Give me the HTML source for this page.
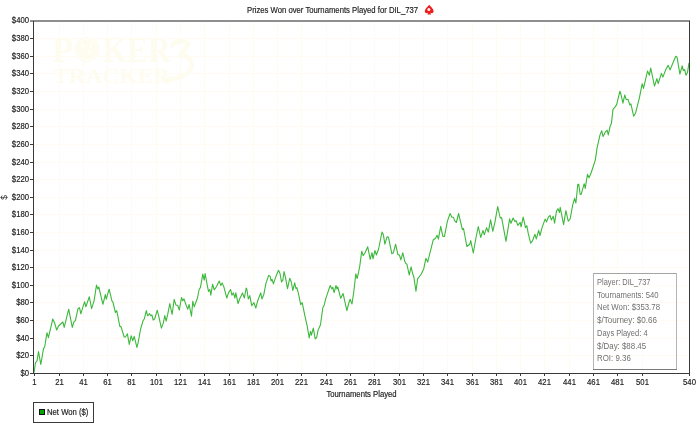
<!DOCTYPE html><html><head><meta charset="utf-8"><title>Prizes Won over Tournaments Played</title><style>
html,body{margin:0;padding:0;background:#fff;width:700px;height:424px;overflow:hidden}
svg{display:block;will-change:transform}
text{font-family:"Liberation Sans", sans-serif;}
.t text{stroke:#1e1e1e;stroke-width:0.18px}
.s text{stroke:none}
text.wm{font-family:"Liberation Serif",serif;font-weight:bold}
</style></head><body>
<svg width="700" height="424" viewBox="0 0 700 424">
<g fill="#fffbf2"><rect x="34" y="355" width="655" height="1"/><rect x="34" y="338" width="655" height="1"/><rect x="34" y="320" width="655" height="1"/><rect x="34" y="302" width="655" height="1"/><rect x="34" y="285" width="655" height="1"/><rect x="34" y="267" width="655" height="1"/><rect x="34" y="250" width="655" height="1"/><rect x="34" y="232" width="655" height="1"/><rect x="34" y="214" width="655" height="1"/><rect x="34" y="197" width="655" height="1"/><rect x="34" y="179" width="655" height="1"/><rect x="34" y="162" width="655" height="1"/><rect x="34" y="144" width="655" height="1"/><rect x="34" y="126" width="655" height="1"/><rect x="34" y="109" width="655" height="1"/><rect x="34" y="91" width="655" height="1"/><rect x="34" y="73" width="655" height="1"/><rect x="34" y="56" width="655" height="1"/><rect x="34" y="38" width="655" height="1"/><rect x="59" y="22" width="1" height="351"/><rect x="83" y="22" width="1" height="351"/><rect x="107" y="22" width="1" height="351"/><rect x="131" y="22" width="1" height="351"/><rect x="156" y="22" width="1" height="351"/><rect x="180" y="22" width="1" height="351"/><rect x="204" y="22" width="1" height="351"/><rect x="229" y="22" width="1" height="351"/><rect x="253" y="22" width="1" height="351"/><rect x="277" y="22" width="1" height="351"/><rect x="301" y="22" width="1" height="351"/><rect x="326" y="22" width="1" height="351"/><rect x="350" y="22" width="1" height="351"/><rect x="374" y="22" width="1" height="351"/><rect x="399" y="22" width="1" height="351"/><rect x="423" y="22" width="1" height="351"/><rect x="447" y="22" width="1" height="351"/><rect x="472" y="22" width="1" height="351"/><rect x="496" y="22" width="1" height="351"/><rect x="520" y="22" width="1" height="351"/><rect x="544" y="22" width="1" height="351"/><rect x="569" y="22" width="1" height="351"/><rect x="593" y="22" width="1" height="351"/><rect x="617" y="22" width="1" height="351"/><rect x="642" y="22" width="1" height="351"/></g>
<g fill="#fefbef">
<text class="wm" x="52" y="62" font-size="35">P</text>
<circle cx="87" cy="49.5" r="12.6"/>
<circle cx="87" cy="49.5" r="10.6" fill="none" stroke="#ffffff" stroke-width="0.9"/>
<g fill="#ffffff"><circle cx="82.5" cy="46" r="1.6"/><circle cx="90.8" cy="46" r="1.6"/><path d="M87.5,51 L91.5,51 L89.5,55 Z"/></g>
<text class="wm" x="102.5" y="62" font-size="35" textLength="68" lengthAdjust="spacingAndGlyphs">KER</text>
<text class="wm" x="53" y="83.2" font-size="20.5" textLength="117" lengthAdjust="spacingAndGlyphs">TRACKER</text>
<path d="M172,45.5 C175,41 184,39.5 188.5,44 L180.5,55.5 C187,55 192,59 191.5,66 C190.5,74 180,79.5 163,80" fill="none" stroke="#fefbef" stroke-width="4.6" stroke-linecap="round" stroke-linejoin="round"/>
</g>
<polyline points="34.1,372.4 35.5,362.7 37.0,361.0 38.5,351.6 40.8,364.5 43.5,348.6 44.7,346.8 47.0,332.7 48.4,337.6 52.8,319.0 54.6,323.0 56.7,330.0 58.5,326.0 62.9,322.0 64.2,327.4 68.7,309.2 72.3,327.4 74.0,321.6 75.3,320.8 78.0,308.7 79.5,307.7 80.8,313.8 84.6,301.7 85.9,306.8 89.3,296.8 91.6,308.7 94.0,301.1 96.5,285.1 97.8,288.9 98.8,287.0 102.9,304.3 105.4,294.5 106.3,299.2 109.1,289.2 112.0,301.1 112.9,302.0 115.4,312.5 116.7,310.6 119.9,326.6 121.0,326.6 124.2,337.0 125.5,337.0 127.4,333.8 129.3,344.5 131.2,335.7 132.7,340.8 134.2,336.4 136.9,347.4 138.2,342.3 140.6,329.0 143.1,320.6 144.4,318.7 146.3,310.6 147.6,315.8 149.5,313.6 150.6,315.8 151.9,314.9 153.2,320.0 154.8,318.7 157.2,310.2 158.9,316.8 161.4,328.1 163.2,323.4 164.8,315.5 166.1,321.1 167.6,314.9 169.8,303.6 172.1,314.5 174.2,299.4 175.9,304.9 177.8,305.5 179.3,310.2 181.5,297.5 182.7,300.8 184.0,298.9 185.9,304.5 187.8,309.2 189.1,304.5 191.5,316.2 192.8,301.2 194.2,306.9 195.7,302.7 197.5,298.0 199.1,289.5 200.4,287.6 202.8,274.1 204.2,280.1 205.1,273.5 207.0,283.9 208.5,291.4 209.8,289.5 210.8,295.2 212.6,284.2 214.2,289.9 216.4,286.7 219.2,281.0 220.8,285.4 222.1,282.9 224.0,287.3 226.8,298.0 228.7,292.4 230.6,289.5 231.9,295.2 233.4,292.9 234.9,298.0 235.8,292.9 238.1,303.7 239.6,299.0 242.5,292.9 244.3,298.0 246.2,288.0 246.9,289.5 248.3,299.0 249.8,295.6 251.7,305.6 253.9,302.7 255.8,308.0 257.7,300.8 260.7,292.9 262.0,299.0 263.9,294.2 265.8,283.9 268.6,275.4 270.2,276.3 271.1,281.0 272.0,279.2 273.4,283.9 275.8,276.7 278.5,270.3 280.0,273.5 281.5,282.0 282.8,280.1 284.1,271.6 285.6,278.2 287.5,288.6 289.8,278.2 291.3,282.0 292.8,290.5 294.7,282.9 296.0,288.6 296.9,287.6 298.8,295.2 300.7,304.6 302.2,302.7 304.8,315.3 307.3,326.6 309.2,337.9 310.5,331.3 311.4,335.1 313.3,328.1 315.2,338.9 316.7,337.5 318.0,330.4 320.5,324.7 322.8,307.7 324.3,304.9 325.6,299.2 328.4,290.8 330.3,285.5 331.8,288.9 332.8,287.4 334.1,292.6 336.0,285.5 336.9,288.9 337.8,287.0 340.7,298.3 343.1,293.6 346.9,310.6 348.8,303.0 350.1,299.2 352.0,304.0 353.9,290.8 355.8,273.8 357.1,278.5 358.3,273.5 359.8,265.9 361.7,251.2 363.2,255.6 365.1,252.7 367.7,246.7 370.2,259.3 372.0,252.7 373.0,258.8 374.9,250.5 376.4,255.0 378.6,249.0 382.0,232.0 383.4,234.8 384.9,244.2 387.1,236.7 388.5,237.3 391.8,253.7 393.4,252.7 395.6,244.2 397.9,254.6 399.4,255.0 400.9,259.9 402.8,252.7 404.7,261.2 406.0,263.7 406.9,264.1 409.2,275.0 411.1,266.9 412.6,273.5 413.8,276.7 416.0,291.3 417.6,278.9 421.0,274.5 423.7,268.9 425.9,258.3 427.7,262.1 429.9,253.2 433.3,239.7 435.5,238.2 437.1,235.2 438.4,239.1 440.7,226.3 442.9,236.4 444.5,236.4 447.4,221.1 450.1,213.5 451.9,217.3 453.5,217.3 454.6,220.7 456.4,222.5 458.6,213.5 462.4,229.6 463.5,228.5 466.9,246.5 469.8,244.2 470.7,240.6 473.3,253.0 476.0,237.5 478.3,226.5 480.7,237.5 483.0,230.4 484.3,234.8 486.6,227.7 488.3,232.1 490.6,219.8 492.8,231.3 494.9,222.4 497.7,206.5 500.2,218.0 501.6,217.6 506.0,241.3 509.6,218.9 511.0,223.3 513.1,218.0 514.9,221.5 516.1,220.7 517.9,225.4 520.2,222.4 521.1,226.8 523.2,217.1 525.5,227.7 526.8,225.7 528.2,233.2 530.6,243.2 532.5,240.8 534.9,234.2 536.3,238.9 538.7,230.4 540.0,235.7 541.9,228.1 545.1,219.1 546.6,221.9 548.5,216.8 550.0,215.3 551.4,220.0 553.2,216.2 554.6,223.2 556.5,211.1 558.0,208.7 559.5,212.5 560.2,207.4 563.6,224.7 565.9,210.6 568.3,221.3 570.2,218.7 572.7,204.9 574.6,198.3 575.9,203.0 577.8,184.2 578.7,184.2 580.2,194.5 581.2,194.3 584.2,183.7 585.2,188.4 587.5,174.3 589.0,177.8 590.6,174.3 593.0,167.2 595.3,160.1 597.0,148.3 600.0,134.9 601.7,130.7 603.1,136.6 605.5,131.8 607.1,130.2 608.3,134.9 610.2,125.9 611.4,123.6 613.0,109.4 615.4,106.6 616.7,104.4 619.9,91.2 621.0,94.4 622.9,103.1 624.8,95.0 626.2,99.7 628.0,99.3 629.9,105.0 630.9,103.9 633.7,116.3 635.6,112.9 639.4,97.8 642.2,83.7 643.5,88.4 647.5,71.0 649.4,75.2 650.7,68.0 654.5,86.1 656.9,78.6 658.2,83.7 661.4,73.3 662.9,77.1 665.8,69.5 668.2,65.4 670.1,69.9 673.3,62.0 675.8,56.3 677.1,57.3 679.9,74.2 682.2,65.8 683.3,70.5 684.6,69.5 686.0,75.2 687.5,72.4 689.0,62.9" fill="none" stroke="#3cb83c" stroke-width="1.1" stroke-linejoin="round"/>
<rect x="30" y="20" width="660" height="2" fill="#8e8e8e"/>
<rect x="33" y="21" width="1" height="353" fill="#3a3a3a"/>
<rect x="689" y="21" width="1" height="353" fill="#3a3a3a"/>
<rect x="30" y="373" width="660" height="1" fill="#3a3a3a"/>
<g fill="#3a3a3a"><rect x="30" y="373" width="3" height="1"/><rect x="30" y="355" width="3" height="1"/><rect x="30" y="338" width="3" height="1"/><rect x="30" y="320" width="3" height="1"/><rect x="30" y="302" width="3" height="1"/><rect x="30" y="285" width="3" height="1"/><rect x="30" y="267" width="3" height="1"/><rect x="30" y="250" width="3" height="1"/><rect x="30" y="232" width="3" height="1"/><rect x="30" y="214" width="3" height="1"/><rect x="30" y="197" width="3" height="1"/><rect x="30" y="179" width="3" height="1"/><rect x="30" y="162" width="3" height="1"/><rect x="30" y="144" width="3" height="1"/><rect x="30" y="126" width="3" height="1"/><rect x="30" y="109" width="3" height="1"/><rect x="30" y="91" width="3" height="1"/><rect x="30" y="73" width="3" height="1"/><rect x="30" y="56" width="3" height="1"/><rect x="30" y="38" width="3" height="1"/><rect x="34" y="374" width="1" height="2"/><rect x="59" y="374" width="1" height="2"/><rect x="83" y="374" width="1" height="2"/><rect x="107" y="374" width="1" height="2"/><rect x="131" y="374" width="1" height="2"/><rect x="156" y="374" width="1" height="2"/><rect x="180" y="374" width="1" height="2"/><rect x="204" y="374" width="1" height="2"/><rect x="229" y="374" width="1" height="2"/><rect x="253" y="374" width="1" height="2"/><rect x="277" y="374" width="1" height="2"/><rect x="301" y="374" width="1" height="2"/><rect x="326" y="374" width="1" height="2"/><rect x="350" y="374" width="1" height="2"/><rect x="374" y="374" width="1" height="2"/><rect x="399" y="374" width="1" height="2"/><rect x="423" y="374" width="1" height="2"/><rect x="447" y="374" width="1" height="2"/><rect x="472" y="374" width="1" height="2"/><rect x="496" y="374" width="1" height="2"/><rect x="520" y="374" width="1" height="2"/><rect x="544" y="374" width="1" height="2"/><rect x="569" y="374" width="1" height="2"/><rect x="593" y="374" width="1" height="2"/><rect x="617" y="374" width="1" height="2"/><rect x="642" y="374" width="1" height="2"/><rect x="689" y="374" width="1" height="2"/></g>
<g class="t" fill="#1e1e1e"><text transform="translate(29.00,376.20) scale(0.930,1)" font-size="8.30" text-anchor="end">$0</text><text transform="translate(29.00,358.20) scale(0.930,1)" font-size="8.30" text-anchor="end">$20</text><text transform="translate(29.00,341.20) scale(0.930,1)" font-size="8.30" text-anchor="end">$40</text><text transform="translate(29.00,323.20) scale(0.930,1)" font-size="8.30" text-anchor="end">$60</text><text transform="translate(29.00,305.20) scale(0.930,1)" font-size="8.30" text-anchor="end">$80</text><text transform="translate(29.00,288.20) scale(0.930,1)" font-size="8.30" text-anchor="end">$100</text><text transform="translate(29.00,270.20) scale(0.930,1)" font-size="8.30" text-anchor="end">$120</text><text transform="translate(29.00,253.20) scale(0.930,1)" font-size="8.30" text-anchor="end">$140</text><text transform="translate(29.00,235.20) scale(0.930,1)" font-size="8.30" text-anchor="end">$160</text><text transform="translate(29.00,217.20) scale(0.930,1)" font-size="8.30" text-anchor="end">$180</text><text transform="translate(29.00,200.20) scale(0.930,1)" font-size="8.30" text-anchor="end">$200</text><text transform="translate(29.00,182.20) scale(0.930,1)" font-size="8.30" text-anchor="end">$220</text><text transform="translate(29.00,165.20) scale(0.930,1)" font-size="8.30" text-anchor="end">$240</text><text transform="translate(29.00,147.20) scale(0.930,1)" font-size="8.30" text-anchor="end">$260</text><text transform="translate(29.00,129.20) scale(0.930,1)" font-size="8.30" text-anchor="end">$280</text><text transform="translate(29.00,112.20) scale(0.930,1)" font-size="8.30" text-anchor="end">$300</text><text transform="translate(29.00,94.20) scale(0.930,1)" font-size="8.30" text-anchor="end">$320</text><text transform="translate(29.00,76.20) scale(0.930,1)" font-size="8.30" text-anchor="end">$340</text><text transform="translate(29.00,59.20) scale(0.930,1)" font-size="8.30" text-anchor="end">$360</text><text transform="translate(29.00,41.20) scale(0.930,1)" font-size="8.30" text-anchor="end">$380</text><text transform="translate(29.00,23.20) scale(0.930,1)" font-size="8.30" text-anchor="end">$400</text><text transform="translate(34.50,384.60) scale(0.930,1)" font-size="8.30" text-anchor="middle">1</text><text transform="translate(59.50,384.60) scale(0.930,1)" font-size="8.30" text-anchor="middle">21</text><text transform="translate(83.50,384.60) scale(0.930,1)" font-size="8.30" text-anchor="middle">41</text><text transform="translate(107.50,384.60) scale(0.930,1)" font-size="8.30" text-anchor="middle">61</text><text transform="translate(131.50,384.60) scale(0.930,1)" font-size="8.30" text-anchor="middle">81</text><text transform="translate(156.50,384.60) scale(0.930,1)" font-size="8.30" text-anchor="middle">101</text><text transform="translate(180.50,384.60) scale(0.930,1)" font-size="8.30" text-anchor="middle">121</text><text transform="translate(204.50,384.60) scale(0.930,1)" font-size="8.30" text-anchor="middle">141</text><text transform="translate(229.50,384.60) scale(0.930,1)" font-size="8.30" text-anchor="middle">161</text><text transform="translate(253.50,384.60) scale(0.930,1)" font-size="8.30" text-anchor="middle">181</text><text transform="translate(277.50,384.60) scale(0.930,1)" font-size="8.30" text-anchor="middle">201</text><text transform="translate(301.50,384.60) scale(0.930,1)" font-size="8.30" text-anchor="middle">221</text><text transform="translate(326.50,384.60) scale(0.930,1)" font-size="8.30" text-anchor="middle">241</text><text transform="translate(350.50,384.60) scale(0.930,1)" font-size="8.30" text-anchor="middle">261</text><text transform="translate(374.50,384.60) scale(0.930,1)" font-size="8.30" text-anchor="middle">281</text><text transform="translate(399.50,384.60) scale(0.930,1)" font-size="8.30" text-anchor="middle">301</text><text transform="translate(423.50,384.60) scale(0.930,1)" font-size="8.30" text-anchor="middle">321</text><text transform="translate(447.50,384.60) scale(0.930,1)" font-size="8.30" text-anchor="middle">341</text><text transform="translate(472.50,384.60) scale(0.930,1)" font-size="8.30" text-anchor="middle">361</text><text transform="translate(496.50,384.60) scale(0.930,1)" font-size="8.30" text-anchor="middle">381</text><text transform="translate(520.50,384.60) scale(0.930,1)" font-size="8.30" text-anchor="middle">401</text><text transform="translate(544.50,384.60) scale(0.930,1)" font-size="8.30" text-anchor="middle">421</text><text transform="translate(569.50,384.60) scale(0.930,1)" font-size="8.30" text-anchor="middle">441</text><text transform="translate(593.50,384.60) scale(0.930,1)" font-size="8.30" text-anchor="middle">461</text><text transform="translate(617.50,384.60) scale(0.930,1)" font-size="8.30" text-anchor="middle">481</text><text transform="translate(642.50,384.60) scale(0.930,1)" font-size="8.30" text-anchor="middle">501</text><text transform="translate(689.50,384.60) scale(0.930,1)" font-size="8.30" text-anchor="middle">540</text></g>
<g class="t" fill="#1e1e1e"><text transform="translate(361.50,396.50) scale(0.930,1)" font-size="8.30" text-anchor="middle">Tournaments Played</text></g>
<text transform="translate(7,197.5) rotate(-90)" text-anchor="middle" font-size="8.3" fill="#1e1e1e">$</text>
<g class="t" fill="#1e1e1e"><text transform="translate(247.00,12.80) scale(0.930,1)" font-size="8.30">Prizes Won over Tournaments Played for DIL_737</text></g>
<g transform="translate(429.2,10)"><path d="M0,-5.3 C-1.4,-3.2 -4.4,-1.3 -4.4,1.3 C-4.4,3.1 -2.4,3.8 -1,2.6 L-1.9,4.6 L1.9,4.6 L1,2.6 C2.4,3.8 4.4,3.1 4.4,1.3 C4.4,-1.3 1.4,-3.2 0,-5.3 Z" fill="#ea1c1c"/><circle cx="-0.3" cy="-0.4" r="1.5" fill="#fff4f0"/></g>
<rect x="593" y="273" width="84" height="1" fill="#a4a4a4"/>
<rect x="593" y="273" width="1" height="97" fill="#b4b4b4"/>
<rect x="676" y="273" width="1" height="97" fill="#b4b4b4"/>
<rect x="593" y="369" width="84" height="1" fill="#7a7a7a"/>
<g class="s" fill="#707070"><text x="597.00" y="284.90" font-size="8.30" textLength="53.50" lengthAdjust="spacingAndGlyphs">Player: DIL_737</text><text x="597.00" y="297.65" font-size="8.30" textLength="61.50" lengthAdjust="spacingAndGlyphs">Tournaments: 540</text><text x="597.00" y="310.40" font-size="8.30" textLength="63.00" lengthAdjust="spacingAndGlyphs">Net Won: $353.78</text><text x="597.00" y="323.15" font-size="8.30" textLength="60.00" lengthAdjust="spacingAndGlyphs">$/Tourney: $0.66</text><text x="597.00" y="335.90" font-size="8.30" textLength="50.60" lengthAdjust="spacingAndGlyphs">Days Played: 4</text><text x="597.00" y="348.65" font-size="8.30" textLength="49.10" lengthAdjust="spacingAndGlyphs">$/Day: $88.45</text><text x="597.00" y="361.40" font-size="8.30" textLength="33.80" lengthAdjust="spacingAndGlyphs">ROI: 9.36</text></g>
<rect x="33.5" y="402.5" width="60" height="20" fill="#fff" stroke="#3a3a3a" stroke-width="1"/>
<rect x="39.5" y="409.5" width="5" height="5" fill="#00a800" stroke="#111" stroke-width="1"/>
<g class="t" fill="#1e1e1e"><text transform="translate(47.00,415.00) scale(0.930,1)" font-size="8.30">Net Won ($)</text></g>
</svg></body></html>
